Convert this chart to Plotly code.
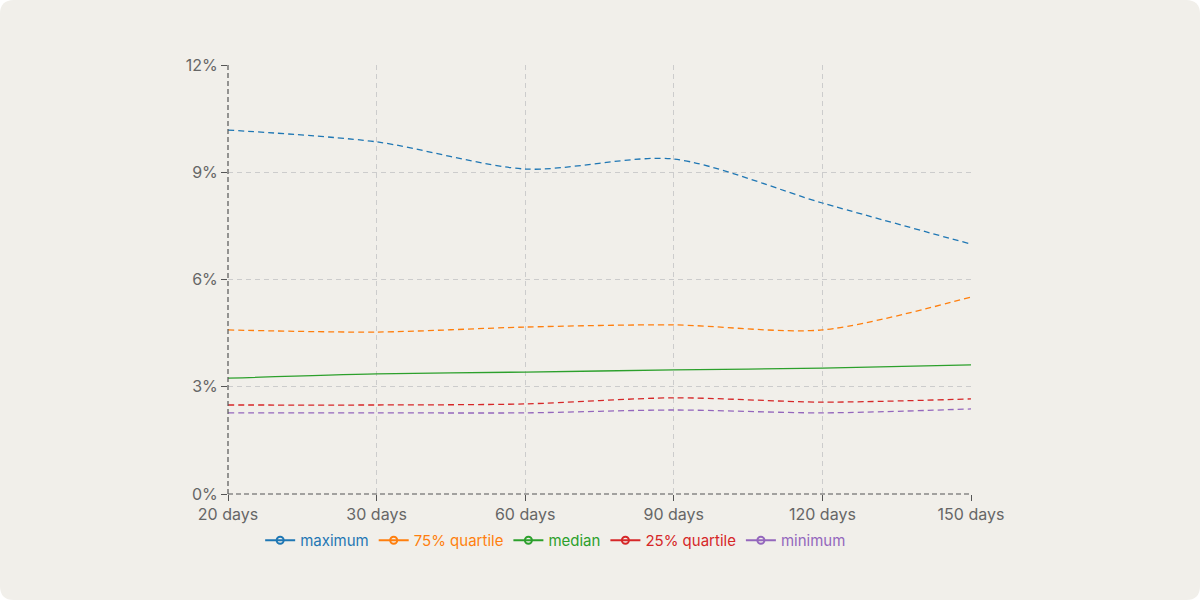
import plotly.graph_objects as go

categories = ["20 days", "30 days", "60 days", "90 days", "120 days", "150 days"]
maximum = [10.18, 9.85, 9.09, 9.37, 8.14, 6.99]
q75 = [4.59, 4.53, 4.67, 4.73, 4.59, 5.51]
median = [3.24, 3.36, 3.41, 3.47, 3.52, 3.61]
q25 = [2.49, 2.49, 2.52, 2.69, 2.57, 2.66]
minimum = [2.27, 2.27, 2.27, 2.35, 2.27, 2.38]
y_ticks = [0, 3, 6, 9, 12]
y_tick_labels = ["0%", "3%", "6%", "9%", "12%"]

series = [
    ("maximum", maximum, "#1f77b4", "6px,4px"),
    ("75% quartile", q75, "#ff7f0e", "6px,4px"),
    ("median", median, "#2ca02c", "solid"),
    ("25% quartile", q25, "#d62728", "6px,4px"),
    ("minimum", minimum, "#9467bd", "6px,4px"),
]

W, H = 1200, 600
L, R, T, B = 228, 229, 65, 106
pw, ph = W - L - R, H - T - B

fig = go.Figure()
for name, vals, color, dash in series:
    label = f'<span style="color:{color}">{name}</span>'
    fig.add_trace(go.Scatter(
        x=list(range(len(categories))), y=vals, name=label,
        mode="lines",
        line=dict(color=color, width=1.3, dash=dash, shape="spline", smoothing=0.8),
        showlegend=False, hoverinfo="skip",
    ))
    fig.add_trace(go.Scatter(
        x=[None], y=[None], name=label,
        mode="lines+markers",
        line=dict(color=color, width=2, dash="solid"),
        marker=dict(symbol="circle-open", size=7, color=color, line=dict(width=2)),
    ))

def px(x):
    return (x - L) / pw

def py(y):
    return (H - B - y) / ph

r = 14
x0, x1, y0, y1 = px(0), px(W), py(0), py(H)
rx, ry = r / pw, r / ph
path = (f"M {x0+rx},{y0} L {x1-rx},{y0} Q {x1},{y0} {x1},{y0-ry} "
        f"L {x1},{y1+ry} Q {x1},{y1} {x1-rx},{y1} L {x0+rx},{y1} Q {x0},{y1} {x0},{y1+ry} "
        f"L {x0},{y0-ry} Q {x0},{y0} {x0+rx},{y0} Z")

shapes = [
    dict(type="path", path=path, xref="paper", yref="paper", fillcolor="#f1efea",
         line=dict(width=0), layer="below"),
    dict(type="line", xref="paper", yref="paper", x0=0, x1=0, y0=0, y1=1,
         line=dict(color="#555555", width=1.2, dash="5px,3px"), layer="above"),
    dict(type="line", xref="paper", yref="paper", x0=0, x1=1, y0=0, y1=0,
         line=dict(color="#555555", width=1.2, dash="5px,3px"), layer="above"),
]

fig.update_layout(
    width=W, height=H,
    margin=dict(l=L, r=R, t=T, b=B, pad=0),
    paper_bgcolor="#ffffff", plot_bgcolor="rgba(0,0,0,0)",
    font=dict(family="Inter, sans-serif", size=15, color="#666666"),
    shapes=shapes,
    showlegend=True,
    legend=dict(orientation="h", x=0.441, xanchor="center", y=-0.07, yanchor="top",
                font=dict(size=15), itemwidth=30, bgcolor="rgba(0,0,0,0)"),
)
fig.update_xaxes(
    range=[0, len(categories) - 1], tickvals=list(range(len(categories))), ticktext=categories,
    showgrid=True, gridcolor="#cccccc", griddash="5px,4px", gridwidth=1.2,
    ticks="outside", ticklen=6, tickcolor="#555555", showline=False, zeroline=False,
    tickfont=dict(size=16, color="#666666"),
)
fig.update_yaxes(
    range=[0, 12], tickvals=y_ticks, ticktext=y_tick_labels,
    showgrid=True, gridcolor="#cccccc", griddash="5px,4px", gridwidth=1.2,
    ticks="outside", ticklen=6, tickcolor="#555555", showline=False, zeroline=False,
    tickfont=dict(size=16, color="#666666"),
)

fig.write_html("out.html", config={"displayModeBar": False},
               post_script="document.body.style.margin='0';")
